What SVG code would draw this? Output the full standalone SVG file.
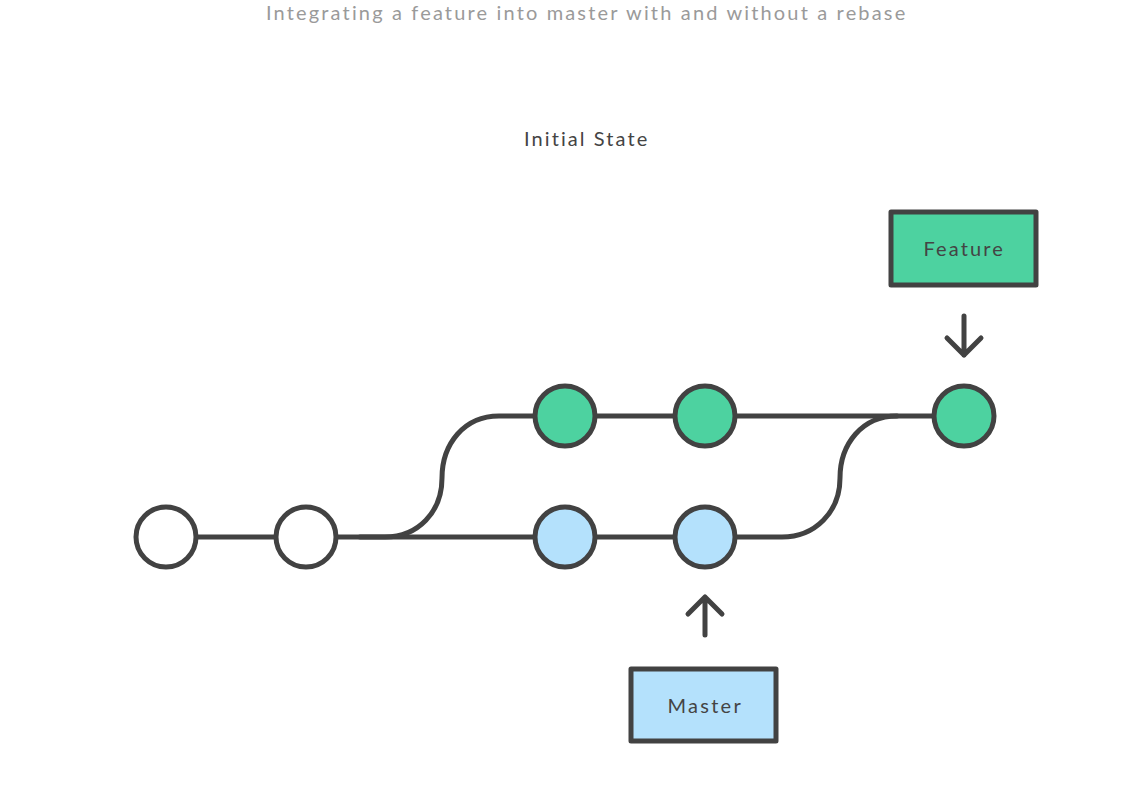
<svg xmlns="http://www.w3.org/2000/svg" width="1127" height="795" viewBox="0 0 1127 795">
<style>
.ln{fill:none;stroke:#424242;stroke-width:5;stroke-linecap:round;stroke-linejoin:round}
.c{stroke:#424242;stroke-width:5}
.w{fill:#fff}.g{fill:#4dd2a0}.b{fill:#b4e1fc}
.t{font-family:"Lato","Liberation Sans",sans-serif;fill:#444;font-size:20px;text-anchor:middle;letter-spacing:0.8px}
.box{stroke:#424242;stroke-width:5;stroke-linejoin:round}
</style>
<rect width="1127" height="795" fill="#fff"/>
<text x="586" y="20" class="t" style="fill:#9a9a9a" textLength="640" lengthAdjust="spacing">Integrating a feature into master with and without a rebase</text>
<text x="586" y="146" class="t" textLength="124" lengthAdjust="spacing">Initial State</text>
<g id="connectors">
<path class="ln" d="M196 537 H276"/>
<path class="ln" d="M336 537 H535"/>
<path class="ln" d="M595 537 H675"/>
<path class="ln" d="M735 537 H782 C815 537 840 512 840 478 C840 444 862 416 897 416"/>
<path class="ln" d="M360 537 H385 C418 537 442 512 442 478 C442 444 464 416 499 416 H535"/>
<path class="ln" d="M595 416 H675"/>
<path class="ln" d="M735 416 H934"/>
<path class="ln" d="M964 316 V355 M947 338 L964 355 L981 338"/>
<path class="ln" d="M705 635 V597 M688 614 L705 597 L722 614"/>
</g>
<g id="c1"><circle cx="166" cy="537" r="30" class="c w"/></g>
<g id="c2"><circle cx="306" cy="537" r="30" class="c w"/></g>
<g id="m1"><circle cx="565" cy="537" r="30" class="c b"/></g>
<g id="m2"><circle cx="705" cy="537" r="30" class="c b"/></g>
<g id="f1"><circle cx="565" cy="416" r="30" class="c g"/></g>
<g id="f2"><circle cx="705" cy="416" r="30" class="c g"/></g>
<g id="f3"><circle cx="964" cy="416" r="30" class="c g"/></g>
<g id="feature">
<rect x="891" y="212" width="145" height="73" class="box g"/>
<text x="963.5" y="256" class="t" textLength="80" lengthAdjust="spacing">Feature</text>
</g>
<g id="master">
<rect x="631" y="669" width="145" height="72" class="box b"/>
<text x="704.5" y="713" class="t" textLength="74" lengthAdjust="spacing">Master</text>
</g>
</svg>
